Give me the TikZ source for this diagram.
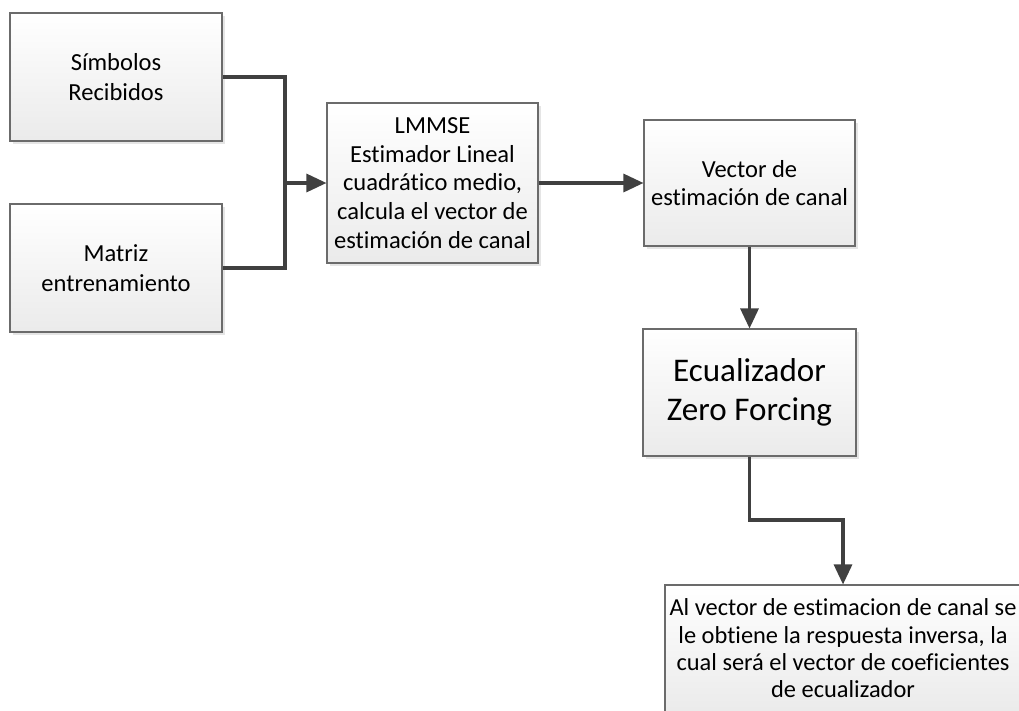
\documentclass[tikz,border=0pt]{standalone}
\usepackage{fontspec}
\setmainfont{Carlito}[Ligatures=NoCommon]
\usetikzlibrary{arrows.meta, shadows}
\definecolor{boxline}{HTML}{6B6B6B}
\definecolor{flecha}{HTML}{404040}
\tikzset{
  bloque/.style={rectangle, draw=boxline, line width=0.8pt, top color=white, bottom color=black!8,
    drop shadow={shadow xshift=2.4pt, shadow yshift=-2.4pt, fill=black!10, opacity=1},
    align=center, inner sep=2pt, font=\fontsize{18.4}{21.5}\selectfont},
  conector/.style={draw=flecha, line width=2.3pt},
  flechita/.style={conector, -{Triangle[length=15pt,width=13.5pt]}}
}
\begin{document}
\begin{tikzpicture}[x=0.75pt,y=-0.75pt]
\useasboundingbox (0,0) rectangle (1019,710);
\clip (0,0) rectangle (1019,710);

\node[bloque,minimum width=159pt,minimum height=96pt,font=\fontsize{18.4}{22.5}\selectfont] (sim) at (116,77) {Símbolos\\Recibidos};
\node[bloque,minimum width=159pt,minimum height=96pt,font=\fontsize{18.4}{22.5}\selectfont] (mat) at (116,268) {Matriz\\entrenamiento};
\node[bloque,minimum width=158.25pt,minimum height=120pt] (lmm) at (432.5,183)
  {LMMSE\\Estimador Lineal\\cuadrático medio,\\calcula el vector de\\estimación de canal};
\node[bloque,minimum width=158.25pt,minimum height=94.5pt] (vec) at (749.5,183) {Vector de\\estimación de canal};
\node[bloque,minimum width=159.75pt,minimum height=95.25pt,font=\fontsize{24.8}{29.5}\selectfont] (ecu) at (749.5,392.5)
  {Ecualizador\\Zero Forcing};
\node[bloque,minimum width=267pt,minimum height=95.25pt,font=\fontsize{18.3}{20.5}\selectfont] (res) at (843,648.5)
  {Al vector de estimacion de canal se\\le obtiene la respuesta inversa, la\\cual será el vector de coeficientes\\de ecualizador};

\coordinate (une) at (285,183);
\coordinate (codo) at (749.5,520);

\draw[conector] (sim.east) -| (une);
\draw[conector] (mat.east) -| (une);
\draw[flechita] (une) -- (lmm.west);
\draw[flechita] (lmm.east) -- (vec.west);
\draw[flechita] (vec.south) -- (ecu.north);
\draw[flechita] (ecu.south) -- (codo) -| (res.north);

\end{tikzpicture}
\end{document}
